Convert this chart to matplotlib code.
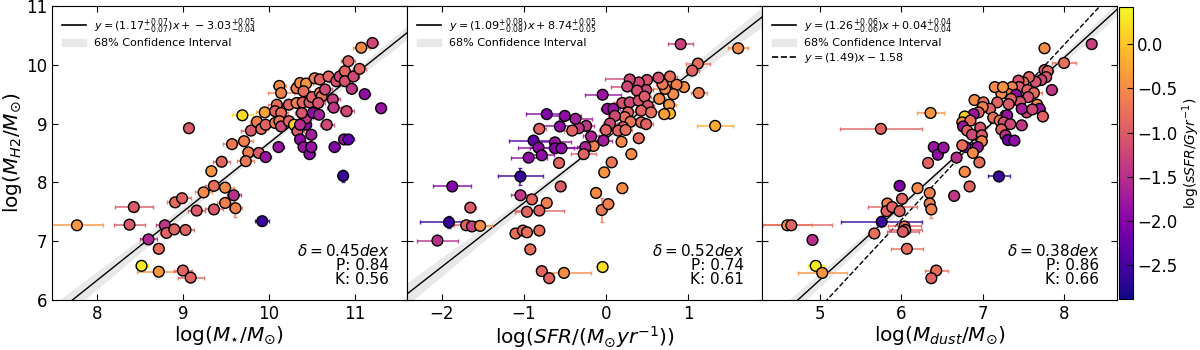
import numpy as np
import matplotlib.pyplot as plt
from matplotlib import colors
from matplotlib.lines import Line2D
from matplotlib.patches import Patch

# ---- panel 1: stellar mass ----
ms_x = [7.77, 8.43, 8.38, 8.60, 8.52, 8.72, 8.72, 9.00, 9.09, 8.79, 8.81, 8.90, 9.03, 8.91, 8.99, 9.16,
        9.24, 9.36, 9.36, 9.49, 9.49, 9.61, 9.59, 9.33, 9.45, 9.07, 9.57, 9.71, 9.76, 9.73, 9.88, 9.96,
        9.79, 9.69, 9.86, 9.91, 9.95, 9.96, 10.07, 10.11, 10.12, 10.14, 10.09, 10.07, 10.14, 10.12, 10.14,
        10.23, 10.23, 10.29, 10.33, 10.36, 10.40, 10.47, 10.49, 10.49, 10.43, 10.43, 10.36, 10.38, 10.32,
        10.36, 10.43, 10.32, 10.40, 10.39, 10.47, 10.51, 10.58, 10.50, 10.53, 10.59, 10.59, 10.61, 10.57,
        10.65, 10.67, 10.69, 10.74, 10.75, 10.78, 10.82, 10.88, 10.88, 10.90, 10.76, 10.87, 10.92, 10.86,
        10.96, 10.98, 10.92, 11.05, 11.11, 11.30, 9.92, 11.07, 11.20]
ms_y = [7.27, 7.58, 7.28, 7.03, 6.58, 6.87, 6.48, 6.50, 6.38, 7.27, 7.14, 7.20, 7.19, 7.66, 7.73, 7.52,
        7.83, 7.54, 7.94, 7.91, 7.65, 7.56, 7.78, 8.19, 8.35, 8.92, 8.65, 8.70, 8.51, 8.36, 8.50, 8.43,
        8.88, 9.14, 9.03, 8.91, 9.19, 8.98, 9.01, 8.60, 9.64, 9.52, 9.32, 9.21, 9.18, 9.04, 8.95,
        9.32, 9.04, 8.98, 8.87, 8.73, 8.60, 8.48, 8.60, 8.81, 8.98, 9.09, 8.98, 9.18, 9.60,
        9.69, 9.68, 9.35, 9.55, 9.36, 9.36, 9.18, 9.15, 9.45, 9.77, 9.75, 9.52, 9.46, 9.35,
        9.58, 8.98, 9.80, 9.41, 9.27, 9.72, 9.80, 9.89, 9.72, 9.21, 8.60, 8.73, 8.73, 8.11,
        9.59, 9.80, 10.06, 9.93, 9.50, 9.26, 7.34, 10.29, 10.37]
ms_c = [-0.4, -1.0, -1.0, -1.6, 0.3, -0.8, -0.4, -0.9, -0.9, -1.4, -0.9, -0.9, -0.9, -0.8, -0.9, -1.0,
        -0.5, -1.0, -0.8, -0.5, -0.6, -0.6, -1.5, -0.4, -0.9, -1.0, -0.7, -0.6, -0.6, -0.7, -1.0, -1.8,
        -1.0, 0.2, -0.6, -0.8, -0.3, -0.9, -0.6, -1.8, -0.5, -0.6, -0.8, -0.9, -0.8, -0.7, -1.2,
        -0.9, -0.9, 0.1, -1.0, -1.9, -1.8, -1.9, -1.8, -1.7, -1.9, -1.4, -1.5, -1.1, -0.6,
        -0.5, -0.4, -0.6, -0.8, -0.9, -1.0, -1.9, -1.7, -0.9, -0.6, -0.9, -0.6, -0.8, -1.1,
        -1.2, -1.2, -0.9, -1.3, -1.4, -1.1, -1.2, -0.9, -1.1, -1.2, -2.0, -1.8, -2.3, -2.6,
        -1.4, -1.2, -0.9, -0.9, -1.9, -1.8, -2.6, -0.5, -1.2]
ms_xerr = [0.30, 0.22, 0.18, 0.10, 0.08, 0.06, 0.25, 0.10, 0.15, 0.10, 0.08, 0.08, 0.10, 0.10, 0.10, 0.10,
           0.10, 0.10, 0.10, 0.10, 0.10, 0.08, 0.08, 0.05, 0.10, 0.05, 0.10, 0.10, 0.08, 0.10, 0.10, 0.06,
           0.12, 0.12, 0.08, 0.08, 0.10, 0.10, 0.08, 0.06, 0.08, 0.15, 0.10, 0.08, 0.08, 0.08, 0.10,
           0.08, 0.08, 0.10, 0.08, 0.06, 0.06, 0.06, 0.06, 0.06, 0.06, 0.08, 0.08, 0.08, 0.08,
           0.08, 0.08, 0.08, 0.08, 0.08, 0.08, 0.06, 0.06, 0.08, 0.08, 0.08, 0.08, 0.08, 0.08,
           0.08, 0.08, 0.08, 0.08, 0.08, 0.08, 0.08, 0.08, 0.08, 0.08, 0.06, 0.06, 0.06, 0.05,
           0.06, 0.06, 0.08, 0.08, 0.06, 0.06, 0.08, 0.10, 0.06]
ms_yerr = [0.06, 0.08, 0.06, 0.08, 0.05, 0.08, 0.06, 0.08, 0.08, 0.06, 0.06, 0.06, 0.06, 0.06, 0.06, 0.06,
           0.06, 0.06, 0.06, 0.06, 0.06, 0.15, 0.06, 0.06, 0.06, 0.06, 0.06, 0.06, 0.06, 0.06, 0.06, 0.06,
           0.06, 0.05, 0.06, 0.06, 0.06, 0.06, 0.06, 0.06, 0.06, 0.06, 0.06, 0.06, 0.06, 0.06, 0.06,
           0.06, 0.06, 0.06, 0.06, 0.06, 0.06, 0.06, 0.06, 0.06, 0.06, 0.06, 0.06, 0.06, 0.06,
           0.06, 0.06, 0.06, 0.06, 0.06, 0.06, 0.06, 0.06, 0.06, 0.06, 0.06, 0.06, 0.06, 0.06,
           0.06, 0.06, 0.06, 0.06, 0.06, 0.06, 0.06, 0.06, 0.06, 0.06, 0.06, 0.08, 0.08, 0.10,
           0.06, 0.06, 0.06, 0.06, 0.06, 0.06, 0.06, 0.06, 0.06]

# ---- panel 2: star formation rate ----
sfr_x = [0.91, 1.61, 1.12, 1.05, 1.13, 1.33, 0.95, 0.86, 0.82, 0.78, 0.72, 0.69, 0.65, 0.77, 0.78, 0.71,
         0.64, 0.50, 0.49, 0.40, 0.38, 0.29, 0.26, 0.20, 0.29, 0.40, 0.47, 0.51, 0.43, 0.55, 0.27, 0.23,
         0.30, 0.21, 0.15, 0.24, 0.43, 0.49, 0.02, 0.09, 0.11, 0.05, 0.00, -0.03, -0.04, 0.19, 0.40,
         0.31, 0.07, -0.02, 0.20, -0.12, -0.05, 0.03, -0.04, -0.15, -0.18, -0.25, -0.27, -0.24, -0.33,
         -0.41, -0.37, -0.50, -0.72, -0.56, -0.81, -0.62, -0.62, -0.54, -0.88, -0.82, -0.78, -0.94, -0.57,
         -0.55, -1.04, -1.04, -0.90, -0.72, -0.96, -0.81, -1.10, -1.01, -0.96, -0.81, -0.92, -0.78, -0.69,
         -0.51, -1.87, -1.65, -1.91, -1.70, -1.63, -1.53, -2.05]
sfr_y = [10.35, 10.28, 10.02, 9.90, 9.52, 8.96, 9.62, 9.66, 9.50, 9.80, 9.59, 9.67, 9.42, 9.32, 9.17, 9.16,
         9.78, 9.74, 9.57, 9.70, 9.56, 9.75, 9.63, 9.35, 9.36, 9.39, 9.46, 9.30, 9.22, 9.19, 9.19, 9.11,
         9.03, 8.94, 8.88, 8.89, 9.02, 8.99, 9.25, 9.25, 9.13, 9.00, 8.89, 8.71, 9.49, 8.69, 8.75,
         8.48, 8.34, 8.17, 7.90, 7.82, 7.53, 7.63, 6.56, 8.62, 8.78, 8.60, 8.48, 8.96, 8.92,
         8.88, 9.08, 9.13, 9.16, 8.95, 8.91, 8.68, 8.58, 8.58, 8.71, 8.59, 8.46, 8.42, 8.33,
         7.93, 8.10, 7.78, 7.71, 7.65, 7.50, 7.52, 7.13, 7.18, 7.15, 7.18, 6.86, 6.49, 6.37,
         6.46, 7.93, 7.57, 7.32, 7.27, 7.25, 7.26, 7.01]
sfr_c = [-1.3, -0.5, -0.8, -0.9, -0.6, -0.2, -0.5, -0.6, -0.5, -0.8, -0.5, -0.7, -0.5, -0.4, -0.1, -0.3,
         -1.1, -1.1, -1.2, -1.2, -1.1, -1.2, -1.2, -1.1, -1.2, -1.1, -1.0, -1.1, -0.9, -0.8, -0.9, -0.8,
         -0.7, -0.9, -0.9, -0.8, -0.8, -0.9, -1.8, -1.8, -1.2, -1.2, -0.9, -1.7, -1.8, -0.5, -0.8,
         -0.5, -0.7, -0.4, -0.5, -0.5, -0.7, -0.6, 0.2, -0.6, -1.6, -1.6, -0.9, -1.4, -1.4,
         -0.9, -1.7, -1.9, -2.0, -1.9, -0.9, -1.8, -2.0, -1.9, -2.3, -1.9, -1.9, -1.9, -0.9,
         -1.0, -2.6, -1.4, -0.9, -0.6, -0.9, -0.9, -0.8, -0.9, -0.8, -0.8, -0.8, -0.9, -0.9,
         -0.5, -2.0, -1.0, -2.6, -0.9, -1.3, -0.5, -1.5]
sfr_xerr = [0.15, 0.12, 0.15, 0.08, 0.10, 0.22, 0.06, 0.08, 0.06, 0.08, 0.15, 0.08, 0.08, 0.08, 0.06, 0.06,
            0.08, 0.06, 0.08, 0.08, 0.08, 0.30, 0.20, 0.10, 0.08, 0.08, 0.08, 0.08, 0.08, 0.08, 0.08, 0.08,
            0.08, 0.08, 0.08, 0.08, 0.08, 0.08, 0.08, 0.08, 0.08, 0.08, 0.08, 0.10, 0.22, 0.06, 0.06,
            0.06, 0.06, 0.06, 0.06, 0.06, 0.06, 0.06, 0.05, 0.06, 0.10, 0.10, 0.15, 0.10, 0.10,
            0.10, 0.20, 0.20, 0.25, 0.30, 0.08, 0.20, 0.30, 0.15, 0.30, 0.25, 0.15, 0.22, 0.05,
            0.05, 0.27, 0.12, 0.06, 0.05, 0.15, 0.30, 0.06, 0.06, 0.06, 0.06, 0.06, 0.06, 0.06,
            0.33, 0.23, 0.07, 0.35, 0.15, 0.12, 0.14, 0.25]
sfr_yerr = [0.06, 0.06, 0.06, 0.06, 0.06, 0.06, 0.06, 0.06, 0.06, 0.06, 0.06, 0.06, 0.06, 0.06, 0.06, 0.06,
            0.06, 0.06, 0.06, 0.06, 0.06, 0.06, 0.06, 0.06, 0.06, 0.06, 0.06, 0.06, 0.06, 0.06, 0.06, 0.06,
            0.06, 0.06, 0.06, 0.06, 0.06, 0.06, 0.06, 0.06, 0.06, 0.06, 0.06, 0.06, 0.06, 0.06, 0.06,
            0.06, 0.06, 0.06, 0.08, 0.08, 0.20, 0.08, 0.08, 0.06, 0.06, 0.06, 0.06, 0.06, 0.06,
            0.06, 0.06, 0.06, 0.06, 0.06, 0.06, 0.06, 0.06, 0.06, 0.06, 0.06, 0.06, 0.06, 0.06,
            0.06, 0.15, 0.06, 0.06, 0.06, 0.06, 0.06, 0.06, 0.06, 0.06, 0.06, 0.06, 0.06, 0.06,
            0.06, 0.06, 0.06, 0.10, 0.06, 0.06, 0.06, 0.06]

# ---- panel 3: dust mass ----
md_x = [8.34, 7.76, 8.00, 7.76, 7.80, 7.78, 7.72, 7.65, 7.85, 7.57, 7.50, 7.44, 7.45, 7.36, 7.32, 7.41,
        7.23, 7.15, 7.25, 7.55, 7.63, 7.56, 7.46, 7.35, 7.18, 7.32, 7.67, 7.70, 7.54, 7.48, 7.61, 7.74,
        6.90, 7.01, 7.09, 7.13, 7.21, 7.30, 7.26, 7.34, 7.23, 7.48, 7.28, 7.31, 7.39, 7.20, 7.00,
        6.95, 6.89, 6.78, 6.75, 6.85, 6.97, 6.76, 6.81, 6.87, 6.99, 6.99, 6.94, 6.79, 6.75,
        6.88, 6.96, 6.68, 6.78, 6.84, 6.65, 6.36, 5.75, 6.40, 6.45, 6.52, 6.33, 5.98, 6.20,
        6.35, 6.35, 6.37, 6.01, 5.83, 5.82, 5.89, 5.98, 5.76, 5.67, 6.04, 6.05, 6.02, 6.07,
        6.43, 6.37, 4.60, 4.65, 4.91, 4.95, 5.03]
md_y = [10.35, 10.28, 10.03, 9.91, 9.89, 9.79, 9.74, 9.71, 9.57, 9.79, 9.70, 9.73, 9.62, 9.62, 9.50, 9.49,
        9.51, 9.62, 9.62, 9.57, 9.52, 9.45, 9.37, 9.42, 9.36, 9.33, 9.32, 9.25, 9.19, 9.25, 9.24, 9.12,
        9.40, 9.36, 9.25, 9.10, 9.05, 9.14, 9.02, 8.99, 8.90, 8.97, 8.80, 8.72, 8.71, 8.10, 9.28,
        9.19, 9.16, 9.12, 9.02, 9.05, 8.93, 8.95, 8.88, 8.81, 8.80, 8.70, 8.60, 8.60, 8.63,
        8.50, 8.34, 8.42, 8.18, 7.93, 7.77, 9.18, 8.91, 8.60, 8.47, 8.59, 8.33, 7.94, 7.90,
        7.82, 7.64, 7.54, 7.72, 7.64, 7.51, 7.58, 7.51, 7.33, 7.13, 7.25, 7.19, 7.16, 6.87,
        6.50, 6.37, 7.27, 7.27, 7.02, 6.58, 6.46]
md_c = [-1.3, -0.5, -0.8, -1.1, -0.9, -1.1, -1.2, -1.1, -1.4, -0.9, -0.8, -1.1, -1.0, -0.6, -0.5, -1.9,
        -0.5, -0.5, -0.4, -0.9, -0.8, -1.1, -1.1, -0.9, -0.9, -1.0, -0.5, -1.8, -1.2, -1.7, -1.2, -0.9,
        -0.5, -0.8, -0.9, -0.8, -0.6, -1.8, -1.1, -1.2, -0.9, -1.4, -1.5, -2.2, -1.9, -2.6, -0.6,
        -0.9, -1.8, 0.1, -0.4, -0.8, -1.1, -1.8, -0.9, -1.2, -1.0, -0.6, -1.8, -1.9, -0.8,
        -0.5, -0.8, -1.5, -0.5, -0.9, -1.4, -0.4, -0.9, -1.8, -1.9, -1.8, -0.9, -2.0, -0.5,
        -0.6, -0.6, -0.6, -0.9, -0.6, -0.9, -0.9, -0.9, -2.6, -0.8, -0.9, -0.9, -1.0, -0.8,
        -0.8, -0.9, -0.4, -0.9, -1.5, 0.3, -0.4]
md_xerr = [0.05, 0.06, 0.15, 0.06, 0.06, 0.06, 0.06, 0.06, 0.06, 0.06, 0.06, 0.06, 0.06, 0.06, 0.06, 0.06,
           0.06, 0.06, 0.06, 0.06, 0.10, 0.06, 0.06, 0.06, 0.06, 0.06, 0.06, 0.06, 0.06, 0.06, 0.06, 0.06,
           0.06, 0.06, 0.06, 0.06, 0.06, 0.06, 0.06, 0.06, 0.06, 0.06, 0.06, 0.06, 0.06, 0.14, 0.06,
           0.06, 0.06, 0.06, 0.06, 0.06, 0.06, 0.06, 0.06, 0.06, 0.06, 0.06, 0.06, 0.06, 0.06,
           0.06, 0.06, 0.06, 0.06, 0.06, 0.06, 0.17, 0.50, 0.05, 0.05, 0.05, 0.05, 0.05, 0.05,
           0.05, 0.05, 0.05, 0.05, 0.05, 0.05, 0.30, 0.05, 0.50, 0.06, 0.20, 0.20, 0.20, 0.20,
           0.14, 0.05, 0.30, 0.50, 0.05, 0.10, 0.30]
md_yerr = [0.06, 0.06, 0.06, 0.06, 0.06, 0.06, 0.06, 0.06, 0.06, 0.06, 0.06, 0.06, 0.06, 0.06, 0.06, 0.06,
           0.06, 0.06, 0.06, 0.06, 0.06, 0.06, 0.06, 0.06, 0.06, 0.06, 0.06, 0.06, 0.06, 0.06, 0.06, 0.06,
           0.06, 0.06, 0.06, 0.06, 0.06, 0.06, 0.06, 0.06, 0.06, 0.06, 0.06, 0.06, 0.06, 0.08, 0.06,
           0.06, 0.06, 0.06, 0.06, 0.06, 0.06, 0.06, 0.06, 0.06, 0.06, 0.06, 0.06, 0.06, 0.06,
           0.06, 0.06, 0.06, 0.06, 0.06, 0.06, 0.06, 0.06, 0.06, 0.06, 0.06, 0.06, 0.06, 0.06,
           0.06, 0.06, 0.15, 0.06, 0.06, 0.06, 0.06, 0.06, 0.06, 0.06, 0.06, 0.06, 0.06, 0.06,
           0.06, 0.06, 0.06, 0.06, 0.06, 0.06, 0.06]

# fit parameters: slope, slope err, intercept, intercept err
fits = [(1.17, 0.07, -3.03, 0.05), (1.09, 0.08, 8.74, 0.05), (1.26, 0.06, 0.04, 0.04)]
fit_labels = [r'$y = (1.17^{+0.07}_{-0.07})x + -3.03^{+0.05}_{-0.04}$',
              r'$y = (1.09^{+0.08}_{-0.08})x + 8.74^{+0.05}_{-0.05}$',
              r'$y = (1.26^{+0.06}_{-0.06})x + 0.04^{+0.04}_{-0.04}$']
stats = [('0.45', '0.84', '0.56'), ('0.52', '0.74', '0.61'), ('0.38', '0.86', '0.66')]
ref_line = (1.49, -1.58)

xlabels = [r'$\log(M_{\star}/M_{\odot})$', r'$\log(SFR/(M_{\odot}yr^{-1}))$', r'$\log(M_{dust}/M_{\odot})$']
xlims = [(7.48, 11.6), (-2.42, 1.9), (4.29, 8.65)]
lefts = [0.0433, 0.3392, 0.635]

data = [(ms_x, ms_y, ms_c, ms_xerr, ms_yerr),
        (sfr_x, sfr_y, sfr_c, sfr_xerr, sfr_yerr),
        (md_x, md_y, md_c, md_xerr, md_yerr)]

cmap = plt.get_cmap('plasma')
norm = colors.Normalize(vmin=-2.88, vmax=0.42)

fig = plt.figure(figsize=(12, 3.5), dpi=100)

for i in range(3):
    x, y, c, xe, ye = [np.array(v) for v in data[i]]
    ax = fig.add_axes([lefts[i], 0.143, 0.2958, 0.84])
    x0, x1 = xlims[i]
    xs = np.linspace(x0, x1, 200)
    a, da, b, db = fits[i]
    xm = x.mean()
    yfit = a * xs + b
    band = np.sqrt((da * (xs - xm)) ** 2 + db ** 2)
    ax.fill_between(xs, yfit - band, yfit + band, color='#e8e8e8', lw=0, zorder=1)
    ax.plot(xs, yfit, color='k', lw=1, zorder=1.5)
    handles = [Line2D([], [], color='k', lw=1.2), Patch(color='#e8e8e8')]
    labels = [fit_labels[i], '68% Confidence Interval']
    if i == 2:
        ax.plot(xs, ref_line[0] * xs + ref_line[1], 'k--', lw=1, zorder=1.5)
        handles.append(Line2D([], [], color='k', lw=1.2, ls='--'))
        labels.append(r'$y = (1.49)x - 1.58$')

    # error bars in the colour of each point
    for j in range(len(x)):
        col = cmap(norm(c[j]))
        ax.errorbar(x[j], y[j], xerr=xe[j], yerr=ye[j], fmt='none', ecolor=col,
                    elinewidth=1.2, capsize=1.5, capthick=1, alpha=0.85, zorder=2)
    ax.scatter(x, y, c=c, cmap=cmap, norm=norm, s=60, edgecolors='k', linewidths=1, zorder=3)

    ax.set_xlim(x0, x1)
    ax.set_ylim(6, 11)
    ax.set_xlabel(xlabels[i], fontsize=14.5, labelpad=1)
    ax.tick_params(direction='in', top=True, right=True, labelsize=12, length=4)
    if i == 0:
        ax.set_ylabel(r'$\log(M_{H2}/M_{\odot})$', fontsize=14.5, labelpad=1)
    else:
        ax.tick_params(labelleft=False)
    ax.legend(handles, labels, loc='upper left', fontsize=8, frameon=False,
              handlelength=2.2, labelspacing=0.25, handletextpad=0.7)
    d, p, k = stats[i]
    ax.text(0.95, 0.045, r'$\delta = %sdex$' % d + '\nP: %s\nK: %s' % (p, k),
            transform=ax.transAxes, ha='right', va='bottom', fontsize=11, linespacing=0.9)

cax = fig.add_axes([0.9325, 0.1457, 0.0117, 0.834])
sm = plt.cm.ScalarMappable(cmap=cmap, norm=norm)
cb = fig.colorbar(sm, cax=cax)
cb.set_ticks([-2.5, -2.0, -1.5, -1.0, -0.5, 0.0])
cb.ax.tick_params(direction='in', labelsize=12, length=4, pad=3)
cb.set_label(r'$\log(sSFR/Gyr^{-1})$', fontsize=10, labelpad=2)

fig.savefig('out.png', dpi=100)
